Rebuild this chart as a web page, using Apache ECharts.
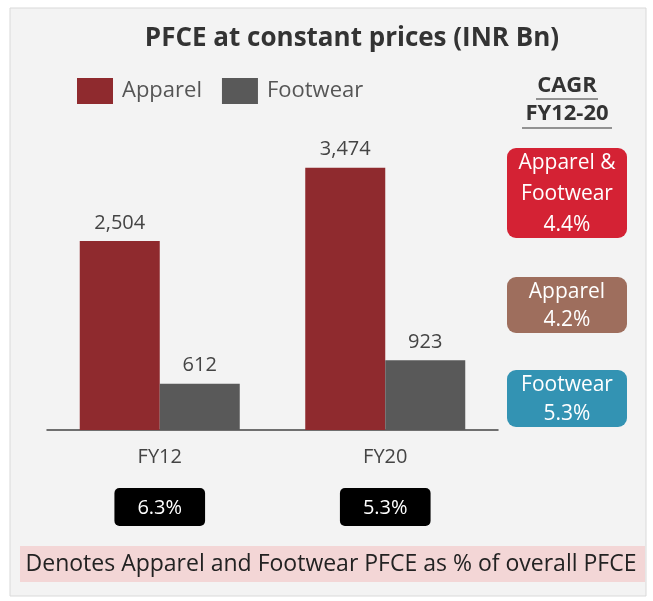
<!DOCTYPE html>
<html><head><meta charset="utf-8">
<script src="https://cdn.jsdelivr.net/npm/echarts@6/dist/echarts.min.js"></script>
<style>html,body{margin:0;padding:0;background:#fff}#c{width:653px;height:601px}</style>
</head><body><div id="c"></div>
<script>
const categories = ['FY12', 'FY20'];
const apparel = [2504, 3474];
const footwear = [612, 923];
const shareOfPfce = ['6.3%', '5.3%'];
const cagrLabels = ['Apparel &\nFootwear', 'Apparel', 'Footwear'];
const cagrValues = ['4.4%', '4.2%', '5.3%'];

const FONT = '"Open Sans", Lato, sans-serif';
const chart = echarts.init(document.getElementById('c'));
const boxColors = ['#d42234', '#9e6e5d', '#3393b3'];
const boxTops = [148, 277, 370];
const boxHeights = [90, 56, 57];
const boxLH = [31, 28, 29];

const graphics = [
  {type:'rect', shape:{x:10, y:8, width:636, height:588}, style:{fill:'#f3f3f3', stroke:'#d9d9d9', lineWidth:1}, z:-10},
  {type:'rect', shape:{x:20, y:546, width:625, height:36}, style:{fill:'#f3d6d6'}, z:-5},
  {type:'text', x:331, y:564, style:{text:'Denotes Apparel and Footwear PFCE as % of overall PFCE', font:'23px '+FONT, fill:'#222', textAlign:'center', textVerticalAlign:'middle'}},
  {type:'text', x:567, y:86, style:{text:'CAGR', font:'bold 22px '+FONT, fill:'#333', textAlign:'center', textVerticalAlign:'middle'}},
  {type:'text', x:567, y:114, style:{text:'FY12-20', font:'bold 22px '+FONT, fill:'#333', textAlign:'center', textVerticalAlign:'middle'}},
  {type:'line', shape:{x1:536, y1:99, x2:598, y2:99}, style:{stroke:'#333', lineWidth:1.2}},
  {type:'line', shape:{x1:522, y1:128, x2:612, y2:128}, style:{stroke:'#333', lineWidth:1.2}},
  {type:'text', x:352, y:39, style:{text:'PFCE at constant prices (INR Bn)', font:'bold 26px '+FONT, fill:'#333', textAlign:'center', textVerticalAlign:'middle'}}
];
cagrLabels.forEach((l, i) => {
  graphics.push({type:'rect', shape:{x:507, y:boxTops[i], width:120, height:boxHeights[i], r:9}, style:{fill:boxColors[i]}});
  graphics.push({type:'text', x:567, y:boxTops[i] + boxHeights[i]/2 + 1, style:{text:l + '\n' + cagrValues[i], font:'21px '+FONT, lineHeight:boxLH[i], fill:'#fff', textAlign:'center', textVerticalAlign:'middle'}});
});

chart.setOption({
  animation:false,
  legend:{left:77, top:78, padding:0, itemWidth:36, itemHeight:26, itemGap:20, icon:'rect', textStyle:{fontFamily:FONT, fontSize:22, color:'#555', padding:[0,0,0,4]}, data:['Apparel','Footwear']},
  grid:{left:47, right:155, top:128, bottom:171, containLabel:false},
  xAxis:{type:'category', data:categories, axisLine:{lineStyle:{color:'#444', width:1.5}}, axisTick:{show:false},
    axisLabel:{margin:12, interval:0, formatter:(v, i) => '{a|' + v + '}\n{b|' + shareOfPfce[i] + '}',
      rich:{a:{fontFamily:FONT, fontSize:20, color:'#444', lineHeight:30},
            b:{fontFamily:FONT, fontSize:20, color:'#fff', backgroundColor:'#000', borderRadius:5, padding:[10,23,8,23], lineHeight:70, align:'center'}}}},
  yAxis:{type:'value', min:0, max:4000, show:false, splitLine:{show:false}},
  series:[
    {name:'Apparel', type:'bar', data:apparel, barWidth:80, barGap:'0%', itemStyle:{color:'#8f2a2e'},
     label:{show:true, position:'top', distance:8, fontFamily:FONT, fontSize:20, color:'#444', formatter:p => p.value.toLocaleString('en-US')}},
    {name:'Footwear', type:'bar', data:footwear, barWidth:80, itemStyle:{color:'#595959'},
     label:{show:true, position:'top', distance:8, fontFamily:FONT, fontSize:20, color:'#444', formatter:p => p.value.toLocaleString('en-US')}}
  ],
  graphic:graphics
});
</script></body></html>
